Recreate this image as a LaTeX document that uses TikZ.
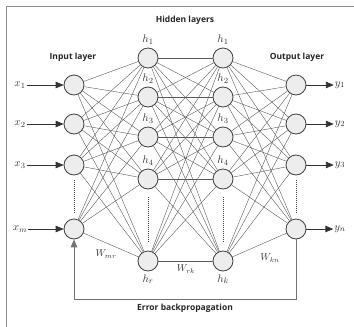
\documentclass[tikz,border=0pt]{standalone}
\usepackage{fontspec}
\setsansfont{Open Sans}
\usetikzlibrary{arrows}
\usetikzlibrary{positioning}

\begin{document}
\begin{tikzpicture}[x=1pt, y=-1pt,
    neuron/.style={draw=black!75, fill=black!7, circle, minimum size=20pt, inner sep=0pt, line width=0.8pt},
    link/.style={draw=black!65, line width=0.4pt},
    layertitle/.style={font=\sffamily\bfseries\fontsize{8.5}{10}\selectfont, text=black!85},
    varlabel/.style={font=\fontsize{11}{12}\selectfont, text=black!80, inner sep=1pt},
    weight/.style={font=\fontsize{10}{12}\selectfont, text=black!80},
    dots/.style={densely dotted, line width=1pt, black!75}]

  \useasboundingbox (0,0) rectangle (354,327);

  % Frame
  \draw[black!45, line width=0.8pt] (6,327) -- (6,6) -- (354,6);

  % Define nodes
  \foreach \n/\y/\s/\t in {1/85/1/1, 2/124/2/2, 3/165/3/3, 4/229/m/n} {
    \node[neuron] (in\n) at (74,\y) {};
    \node[neuron] (out\n) at (296,\y) {};
    \node[varlabel] (x\n) at (20,\y) {$x_{\s}$};
    \node[varlabel] (y\n) at (340,\y) {$y_{\t}$};
  }
  \foreach \n/\y in {1/58, 2/97, 3/137, 4/179, 5/261} {
    \node[neuron] (ha\n) at (148,\y) {};
    \node[neuron] (hb\n) at (223,\y) {};
  }

  % Hidden labels
  \foreach \l in {a,b} {
    \foreach \n in {1,...,4} {
      \node[varlabel, above=2pt of h\l\n] (lab\l\n) {$h_{\n}$};
    }
  }
  \node[varlabel, below=2pt of ha5] (laba5) {$h_{r}$};
  \node[varlabel, below=2pt of hb5] (labb5) {$h_{k}$};

  % Titles
  \node[layertitle] (hidden) at (185,20) {Hidden layers};
  \node[layertitle] (inputl) at (73,57) {Input layer};
  \node[layertitle] (outputl) at (297,57) {Output layer};

  % Weights
  \node[weight] (wmr) at (106,254) {$W_{mr}$};
  \node[weight] (wrk) at (186,269) {$W_{rk}$};
  \node[weight] (wkn) at (270,258) {$W_{kn}$};

  % Connect the nodes
  \foreach \i in {1,...,4}
    \foreach \j in {1,...,5} {
      \draw[link] (in\i) -- (ha\j);
      \draw[link] (hb\j) -- (out\i);
    }
  \foreach \i in {1,...,5}
    \foreach \j in {1,...,5}
      \draw[link] (ha\i) -- (hb\j);

  % Dots between the last two neurons
  \draw[dots, shorten >=5pt, shorten <=5pt] (in3) -- (in4);
  \draw[dots, shorten >=5pt, shorten <=5pt] (out3) -- (out4);
  \draw[dots, shorten >=8pt, shorten <=8pt] (ha4) -- (ha5);
  \draw[dots, shorten >=8pt, shorten <=8pt] (hb4) -- (hb5);

  % Inputs and outputs
  \foreach \n in {1,...,4} {
    \draw [->, >={triangle 45}, line width=0.8pt, black!80] (x\n) -- (in\n);
    \draw [->, >={triangle 45}, line width=0.8pt, black!80] (out\n) -- (y\n);
  }

  % Error backpropagation
  \coordinate (fb) at (185,299);
  \draw [->, >={triangle 45}, black!55, line width=0.8pt] (out4.south) -- (out4.south |- fb) -| (in4.south);
  \node[layertitle, below=2pt of fb] (err) {Error backpropagation};

\end{tikzpicture}
\end{document}
